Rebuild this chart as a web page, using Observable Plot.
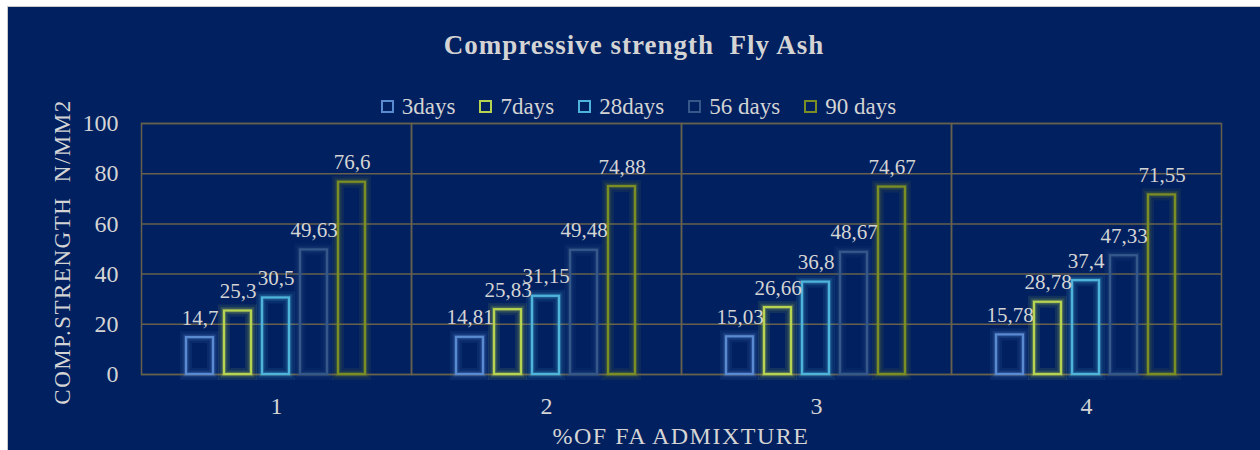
<!DOCTYPE html>
<html>
<head>
<meta charset="utf-8">
<script src="https://cdn.jsdelivr.net/npm/d3@7"></script>
<script src="https://cdn.jsdelivr.net/npm/@observablehq/plot@0.6"></script>
<style>
  html, body { margin: 0; padding: 0; background: #ffffff; }
  #wrap { position: relative; width: 1260px; height: 450px; overflow: hidden; font-family: "Liberation Serif", "DejaVu Serif", serif; }
  #panel { position: absolute; left: 7px; top: 6px; width: 1253px; height: 444px; background: #002060; border-left: 1px solid #c8c8c8; border-top: 1px solid #c8c8c8; box-sizing: border-box; }
  #chart { position: absolute; left: 0; top: 0; }
  .txt { position: absolute; color: #d4d4d4; white-space: nowrap; }
  #title { left: 0; width: 1268px; top: 30px; text-align: center; font-size: 27px; font-weight: bold; letter-spacing: 1px; }
  #legend { left: 0; width: 1277px; top: 94px; text-align: center; font-size: 23px; line-height: 26px; }
  #legend span.item { display: inline-block; margin: 0 12px; }
  #legend span.sw { display: inline-block; width: 9px; height: 9px; border: 2px solid; margin-right: 8px; vertical-align: 1px; }
  #ylab { left: 63px; top: 252px; font-size: 23px; letter-spacing: 1.5px; transform: translate(-50%, -50%) rotate(-90deg); }
  #xlab { left: 0; width: 1362px; top: 424px; text-align: center; font-size: 24px; letter-spacing: 1.5px; line-height: 24px; }
</style>
</head>
<body>
<div id="wrap">
  <div id="panel"></div>
  <div id="chart"></div>
  <div class="txt" id="title">Compressive strength&nbsp; Fly Ash</div>
  <div class="txt" id="legend"></div>
  <div class="txt" id="ylab">COMP.STRENGTH&nbsp; N/MM2</div>
  <div class="txt" id="xlab">%OF FA ADMIXTURE</div>
</div>
<script>
// ---- data ----
const categories = ["1", "2", "3", "4"];
const series = ["3days", "7days", "28days", "56 days", "90 days"];
const days3  = [14.7, 14.81, 15.03, 15.78];
const days7  = [25.3, 25.83, 26.66, 28.78];
const days28 = [30.5, 31.15, 36.8, 37.4];
const days56 = [49.63, 49.48, 48.67, 47.33];
const days90 = [76.6, 74.88, 74.67, 71.55];
const valueLabels = [
  ["14,7", "14,81", "15,03", "15,78"],
  ["25,3", "25,83", "26,66", "28,78"],
  ["30,5", "31,15", "36,8", "37,4"],
  ["49,63", "49,48", "48,67", "47,33"],
  ["76,6", "74,88", "74,67", "71,55"]
];
const yTicks = [0, 20, 40, 60, 80, 100];
const colors = ["#5a8ad0", "#b6d352", "#4fb4da", "#34588a", "#7b8e25"];

const seriesValues = [days3, days7, days28, days56, days90];
const rows = [];
series.forEach((s, i) => categories.forEach((c, j) => rows.push({
  cat: c, series: s, value: seriesValues[i][j], label: valueLabels[i][j]
})));

const grid = "#66604c";
const textColor = "#d4d4d4";

const glow = (w, o) => Plot.barY(rows, {
  fx: "cat", x: "series", y: "value", stroke: "series",
  fill: "none", strokeWidth: w, strokeOpacity: o
});

const chart = Plot.plot({
  width: 1260,
  height: 450,
  marginLeft: 140,
  marginRight: 38,
  marginTop: 123,
  marginBottom: 76,
  style: { background: "transparent", fontFamily: "'Liberation Serif', serif", color: textColor },
  fx: { domain: categories, padding: 0, label: null },
  x: { domain: series, paddingInner: 0.28, paddingOuter: 1.14, axis: null },
  y: { domain: [0, 100], label: null },
  color: { domain: series, range: colors },
  marks: [
    Plot.ruleY(yTicks, { stroke: grid, strokeWidth: 1.5 }),
    Plot.frame({ stroke: grid, strokeWidth: 1.5 }),
    glow(12, 0.10),
    glow(7, 0.16),
    glow(4, 0.22),
    Plot.barY(rows, { fx: "cat", x: "series", y: "value", stroke: "series", fill: "none", strokeWidth: 2.2 }),
    Plot.text(rows, {
      fx: "cat", x: "series", y: "value", text: "label",
      dy: -13, lineAnchor: "bottom", fill: textColor, fontSize: 21
    }),
    Plot.axisY({ ticks: yTicks, tickSize: 0, tickPadding: 23, fontSize: 24, label: null, color: textColor }),
    Plot.axisFx({ anchor: "bottom", tickSize: 0, tickPadding: 22, fontSize: 24, label: null, color: textColor })
  ]
});
document.getElementById("chart").appendChild(chart);

// legend
const leg = document.getElementById("legend");
series.forEach((s, i) => {
  const item = document.createElement("span");
  item.className = "item";
  const sw = document.createElement("span");
  sw.className = "sw";
  sw.style.borderColor = colors[i];
  item.appendChild(sw);
  item.appendChild(document.createTextNode(s));
  leg.appendChild(item);
});
</script>
</body>
</html>
